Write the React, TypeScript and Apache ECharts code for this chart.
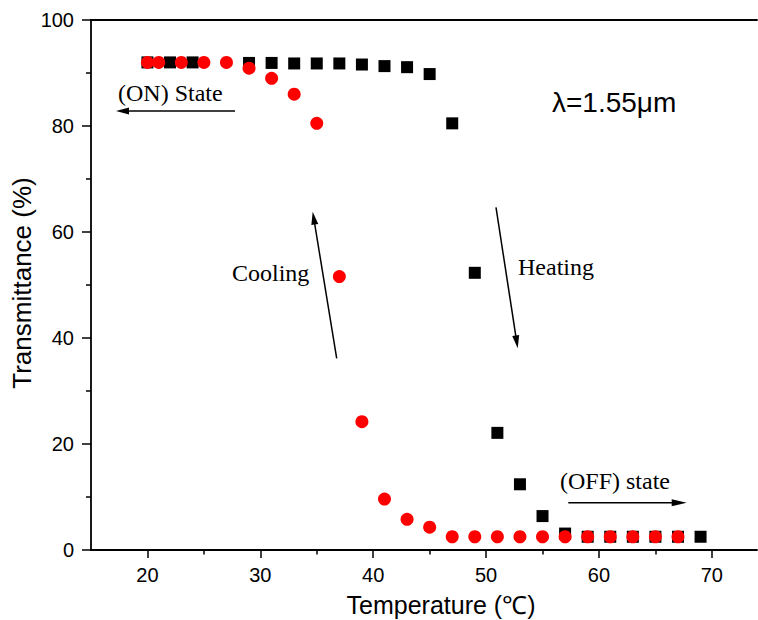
import React, { useEffect, useRef } from "react";
import * as echarts from "echarts";

// Heating run (black squares)
const heatingTemp = [20, 22, 24, 29, 31, 33, 35, 37, 39, 41, 43, 45, 47, 49, 51, 53, 55, 57, 59, 61, 63, 65, 67, 69];
const heatingTrans = [92, 92, 92, 91.9, 91.9, 91.8, 91.8, 91.8, 91.6, 91.3, 91.1, 89.8, 80.5, 52.3, 22.1, 12.4, 6.4, 3.1, 2.5, 2.5, 2.5, 2.5, 2.5, 2.5];

// Cooling run (red circles)
const coolingTemp = [20, 21, 23, 25, 27, 29, 31, 33, 35, 37, 39, 41, 43, 45, 47, 49, 51, 53, 55, 57, 59, 61, 63, 65, 67];
const coolingTrans = [92, 92, 92, 92, 92, 90.9, 89.0, 86.0, 80.5, 51.6, 24.2, 9.6, 5.8, 4.3, 2.5, 2.5, 2.5, 2.5, 2.5, 2.5, 2.5, 2.5, 2.5, 2.5, 2.5];

// Axis ticks
const xMajorTicks = [20, 30, 40, 50, 60, 70];
const xMinorTicks = [25, 35, 45, 55, 65];
const yMajorTicks = [0, 20, 40, 60, 80, 100];
const yMinorTicks = [10, 30, 50, 70, 90];

const X_MIN = 15;
const X_MAX = 74;
const Y_MIN = 0;
const Y_MAX = 100;

const SERIF = "'Liberation Serif', 'Times New Roman', serif";
const SANS = "'Liberation Sans', Arial, sans-serif";

function arrow(x1: number, y1: number, x2: number, y2: number, headLen = 13, headHalf = 3.5) {
  const dx = x2 - x1;
  const dy = y2 - y1;
  const L = Math.hypot(dx, dy);
  const ux = dx / L;
  const uy = dy / L;
  const bx = x2 - ux * headLen;
  const by = y2 - uy * headLen;
  const px = -uy;
  const py = ux;
  return [
    { type: "line", shape: { x1, y1, x2: bx + ux * 2, y2: by + uy * 2 }, style: { stroke: "#000", lineWidth: 1.5 } },
    {
      type: "polygon",
      shape: {
        points: [
          [x2, y2],
          [bx + px * headHalf, by + py * headHalf],
          [bx - px * headHalf, by - py * headHalf],
        ],
      },
      style: { fill: "#000" },
    },
  ];
}

function serifText(text: string, x: number, y: number) {
  return {
    type: "text",
    x,
    y,
    style: {
      text,
      fill: "#000",
      font: `24px ${SERIF}`,
      textAlign: "left",
      textVerticalAlign: "middle",
    },
  };
}

export default function App() {
  const ref = useRef<HTMLDivElement>(null);

  useEffect(() => {
    if (!ref.current) return;
    const chart = echarts.init(ref.current, undefined, { renderer: "svg" });

    const axisLine = { show: true, lineStyle: { color: "#000", width: 1.8 } };

    const option: any = {
      animation: false,
      backgroundColor: "#fff",
      grid: { left: 91, right: 1, top: 20, bottom: 70, containLabel: false, outerBoundsMode: "none" },
      xAxis: [
        {
          type: "value",
          min: X_MIN,
          max: X_MAX,
          position: "bottom",
          axisLine,
          axisTick: { show: true, inside: false, length: 8, customValues: xMajorTicks, lineStyle: { color: "#000", width: 1.5 } },
          axisLabel: { show: true, customValues: xMajorTicks, margin: 15, fontSize: 20, color: "#000", fontFamily: SANS },
          splitLine: { show: false },
        },
        {
          type: "value",
          min: X_MIN,
          max: X_MAX,
          position: "bottom",
          axisLine: { show: false },
          axisTick: { show: true, inside: false, length: 4.5, customValues: xMinorTicks, lineStyle: { color: "#000", width: 1.5 } },
          axisLabel: { show: false },
          splitLine: { show: false },
        },
        {
          type: "value",
          min: X_MIN,
          max: X_MAX,
          position: "top",
          axisLine,
          axisTick: { show: false },
          axisLabel: { show: false },
          splitLine: { show: false },
        },
      ],
      yAxis: [
        {
          type: "value",
          min: Y_MIN,
          max: Y_MAX,
          position: "left",
          axisLine,
          axisTick: { show: true, inside: false, length: 9, customValues: yMajorTicks, lineStyle: { color: "#000", width: 1.5 } },
          axisLabel: { show: true, customValues: yMajorTicks, margin: 17, fontSize: 20, color: "#000", fontFamily: SANS },
          splitLine: { show: false },
        },
        {
          type: "value",
          min: Y_MIN,
          max: Y_MAX,
          position: "left",
          axisLine: { show: false },
          axisTick: { show: true, inside: false, length: 5, customValues: yMinorTicks, lineStyle: { color: "#000", width: 1.5 } },
          axisLabel: { show: false },
          splitLine: { show: false },
        },
      ],
      series: [
        {
          name: "Heating",
          type: "scatter",
          xAxisIndex: 0,
          yAxisIndex: 0,
          symbol: "rect",
          symbolSize: 12,
          itemStyle: { color: "#000", opacity: 1 },
          data: heatingTemp.map((t, i) => [t, heatingTrans[i]]),
          z: 2,
        },
        {
          name: "Cooling",
          type: "scatter",
          xAxisIndex: 0,
          yAxisIndex: 0,
          symbol: "circle",
          symbolSize: 13,
          itemStyle: { color: "#ff0000", opacity: 1 },
          data: coolingTemp.map((t, i) => [t, coolingTrans[i]]),
          z: 3,
        },
      ],
      graphic: [
        {
          type: "text",
          x: 441,
          y: 605,
          style: {
            text: "Temperature (℃)",
            fill: "#000",
            font: `25px ${SANS}`,
            textAlign: "center",
            textVerticalAlign: "middle",
          },
        },
        {
          type: "text",
          x: 22,
          y: 283,
          rotation: Math.PI / 2,
          style: {
            text: "Transmittance (%)",
            fill: "#000",
            font: `26px ${SANS}`,
            textAlign: "center",
            textVerticalAlign: "middle",
          },
        },
        {
          type: "text",
          x: 552,
          y: 102,
          style: {
            text: "λ=1.55μm",
            fill: "#000",
            font: `28px ${SANS}`,
            textAlign: "left",
            textVerticalAlign: "middle",
          },
        },
        serifText("(ON) State", 118, 93),
        serifText("Cooling", 232, 273),
        serifText("Heating", 518, 267),
        serifText("(OFF) state", 560, 481),
        ...arrow(235, 111, 116, 111),
        ...arrow(336.7, 358.3, 312.7, 211.7),
        ...arrow(496, 207.3, 517.7, 348.3),
        ...arrow(568.3, 502.7, 686.7, 502.7, 15, 3.5),
      ],
    };

    chart.setOption(option);
    return () => chart.dispose();
  }, []);

  return (
    <div
      ref={ref}
      style={{ position: "fixed", left: 0, top: 0, width: 758, height: 620, background: "#fff" }}
    />
  );
}
